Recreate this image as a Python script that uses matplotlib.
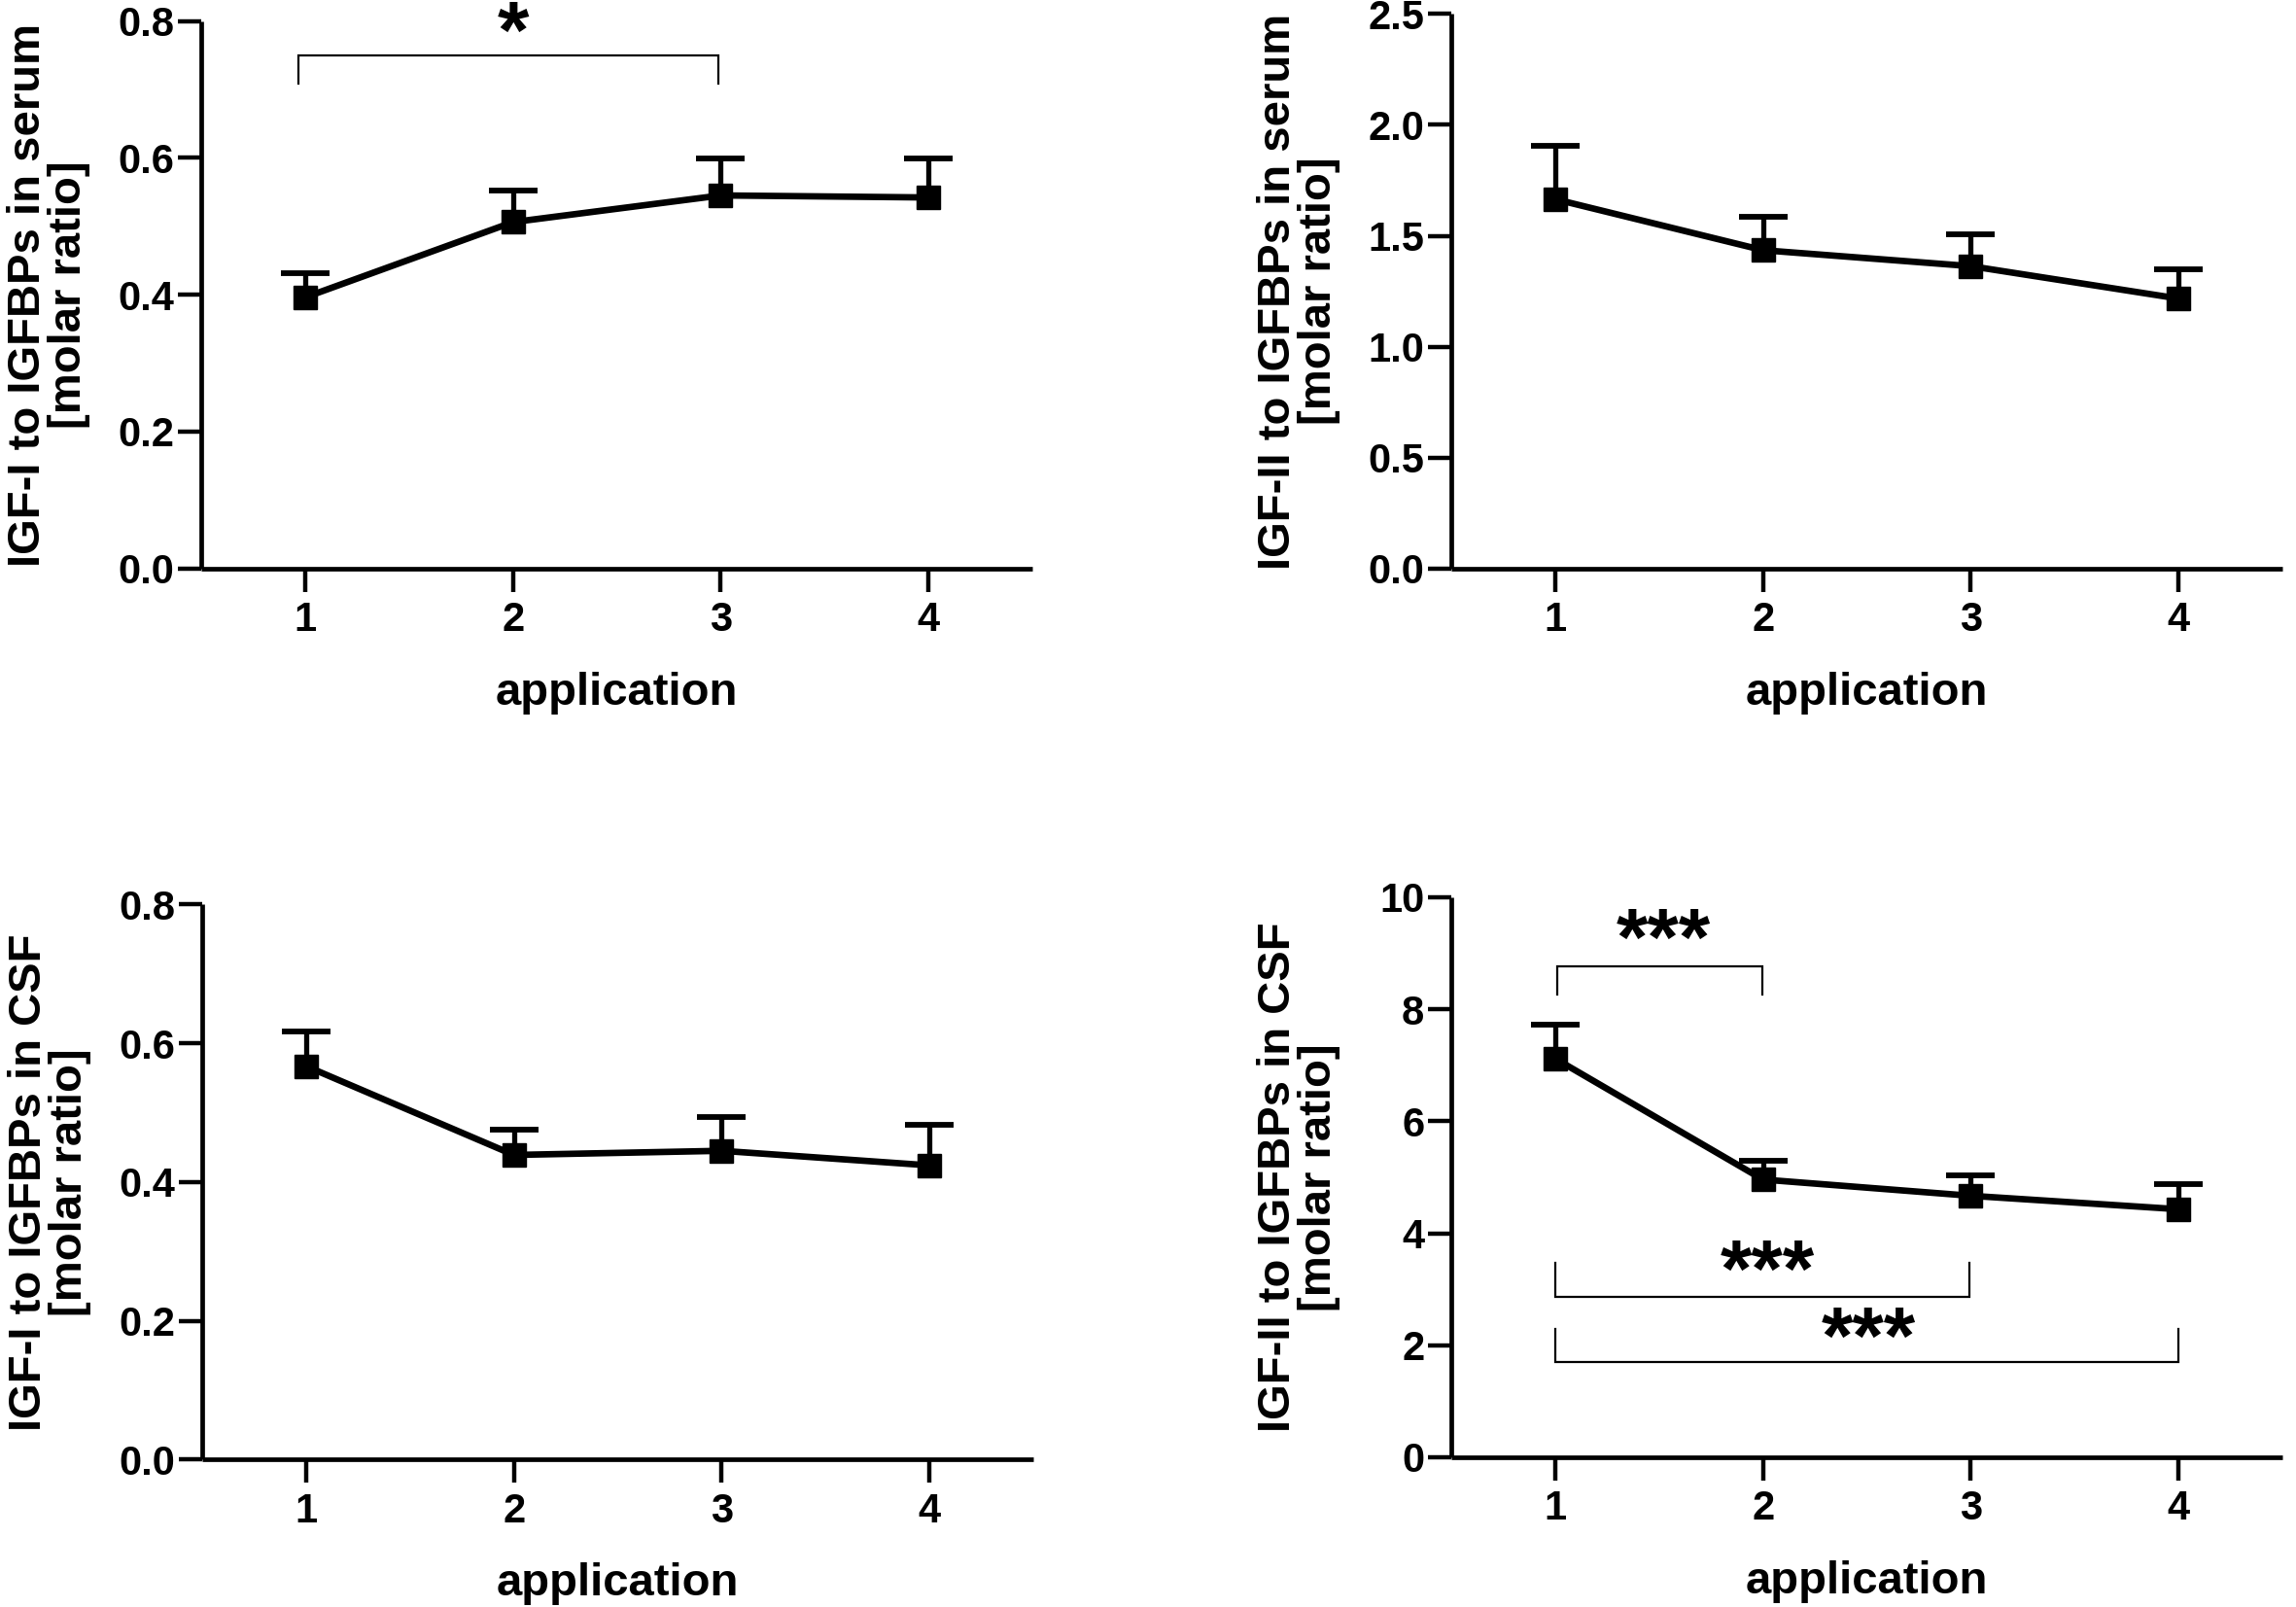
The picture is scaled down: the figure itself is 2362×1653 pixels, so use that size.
import matplotlib
matplotlib.use("Agg")
import matplotlib.pyplot as plt
from matplotlib.transforms import offset_copy

W, H, DPI = 2362, 1653, 100

# values (mean and upper error = SEM)
application = [1, 2, 3, 4]

igf1_serum = [0.396, 0.506, 0.545, 0.542]
igf1_serum_err = [0.035, 0.046, 0.054, 0.057]

igf2_serum = [1.665, 1.435, 1.363, 1.217]
igf2_serum_err = [0.242, 0.149, 0.145, 0.130]

igf1_csf = [0.567, 0.439, 0.445, 0.424]
igf1_csf_err = [0.050, 0.037, 0.049, 0.058]

igf2_csf = [7.12, 4.96, 4.67, 4.43]
igf2_csf_err = [0.61, 0.33, 0.37, 0.44]

ylabels = [
    "IGF-I to IGFBPs in serum\n[molar ratio]",
    "IGF-II to IGFBPs in serum\n[molar ratio]",
    "IGF-I to IGFBPs in CSF\n[molar ratio]",
    "IGF-II to IGFBPs in CSF\n[molar ratio]",
]
yticks = [
    [0.0, 0.2, 0.4, 0.6, 0.8],
    [0.0, 0.5, 1.0, 1.5, 2.0, 2.5],
    [0.0, 0.2, 0.4, 0.6, 0.8],
    [0, 2, 4, 6, 8, 10],
]
yfmt = ["{:.1f}", "{:.1f}", "{:.1f}", "{:d}"]

# significance brackets: x1, x2, y of bar, y of leg ends, label, label x, label y
brackets = [
    [(0.97, 2.99, 0.750, 0.708, "*", 2.0, 0.80)],
    [],
    [],
    [
        (1.01, 1.995, 8.77, 8.27, "***", 1.52, 9.45),
        (1.0, 2.995, 2.87, 3.47, "***", 2.02, 3.52),
        (1.0, 4.0, 1.70, 2.30, "***", 2.51, 2.32),
    ],
]

series = [
    (igf1_serum, igf1_serum_err),
    (igf2_serum, igf2_serum_err),
    (igf1_csf, igf1_csf_err),
    (igf2_csf, igf2_csf_err),
]

# axes boxes in pixels: left, top, bottom
boxes = [(207, 21.5, 584.7), (1493, 14.4, 584.7), (208, 930.4, 1501.3), (1493, 923, 1499)]
AXW = 855

plt.rcParams["font.family"] = ["Liberation Sans", "DejaVu Sans"]
plt.rcParams["font.weight"] = "bold"

fig = plt.figure(figsize=(W / DPI, H / DPI), dpi=DPI)

for i in range(4):
    left, top, bottom = boxes[i]
    axh = bottom - top
    ax = fig.add_axes([left / W, 1 - bottom / H, AXW / W, axh / H])
    mean, err = series[i]

    cont = ax.errorbar(application, mean, yerr=[[0] * 4, err], color="black",
                       lw=4.8, marker="s", ms=17, elinewidth=3.8,
                       capsize=18, capthick=4.2, zorder=3)
    # only the upper cap, like the reference
    cont[1][0].set_visible(False)
    cont[1][1].set_solid_capstyle("round")

    ax.set_xlim(0.5, 4.5)
    ax.set_ylim(yticks[i][0], yticks[i][-1])
    ax.set_xticks(application)
    ax.set_yticks(yticks[i])
    ax.set_yticklabels([yfmt[i].format(v) for v in yticks[i]])

    for s in ["top", "right"]:
        ax.spines[s].set_visible(False)
    for s in ["left", "bottom"]:
        ax.spines[s].set_linewidth(3.4)
        ax.spines[s].set_capstyle("butt")
    ax.tick_params(axis="both", direction="out", length=17, width=3.2,
                   labelsize=30)
    ax.tick_params(axis="x", pad=7)
    ax.tick_params(axis="y", pad=3)
    for lab in ax.get_xticklabels() + ax.get_yticklabels():
        lab.set_fontweight("bold")

    ax.set_ylabel(ylabels[i], fontsize=34, fontweight="bold", va="center",
                  linespacing=0.95)
    ax.yaxis.set_label_coords(-157 / AXW, 0.5)
    ax.set_xlabel("application", fontsize=34, fontweight="bold", va="baseline")
    ax.xaxis.set_label_coords(0.5, -140 / axh)

    star_tr = offset_copy(ax.transData, fig=fig, x=0, y=-38, units="dots")
    for x1, x2, yb, yl, txt, tx, ty in brackets[i]:
        ax.plot([x1, x1, x2, x2], [yl, yb, yb, yl], color="black", lw=1.6,
                solid_joinstyle="miter", clip_on=False)
        ax.text(tx, ty, txt, transform=star_tr, ha="center", va="baseline",
                fontsize=60, fontweight="bold")

fig.savefig("out.png", dpi=DPI)
